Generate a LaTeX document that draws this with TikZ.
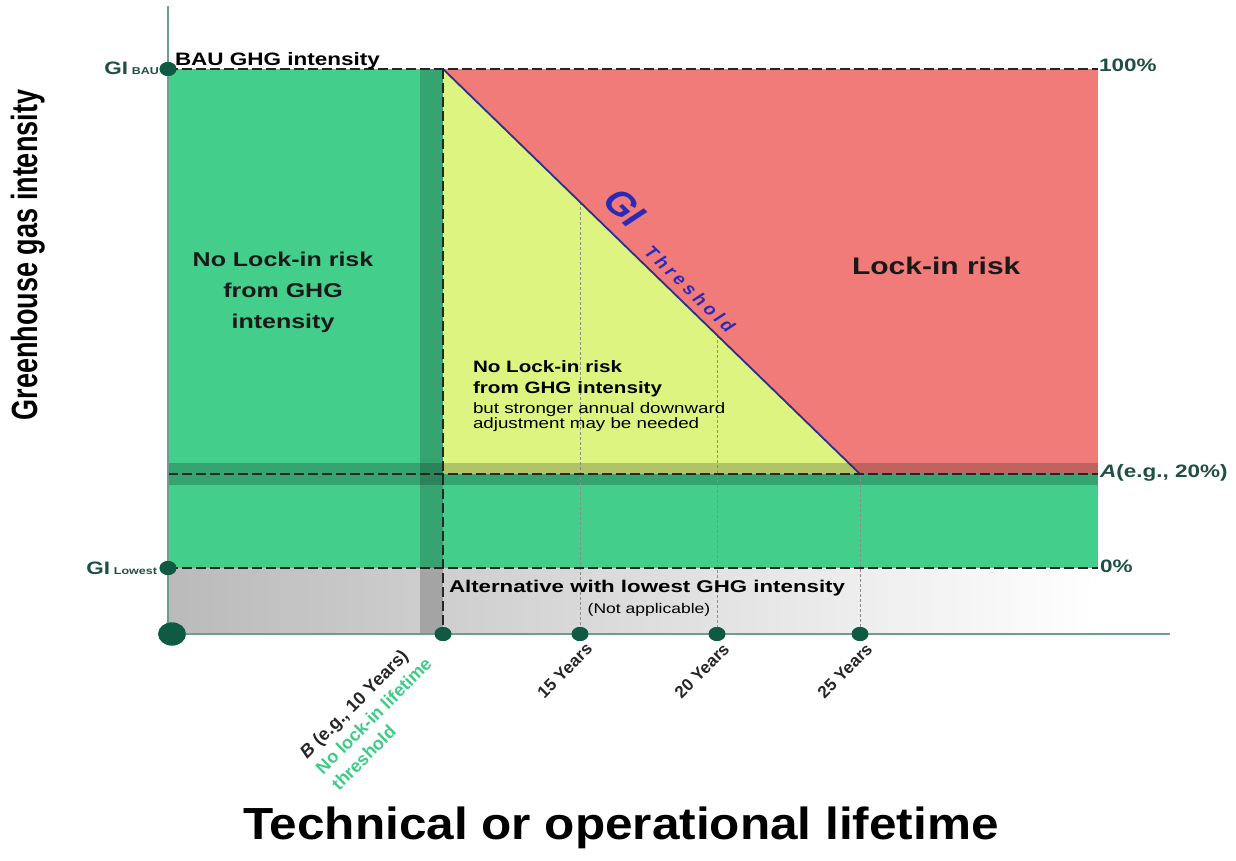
\documentclass[tikz,border=0pt]{standalone}
\usepackage{fontspec}
\setmainfont{Liberation Sans}
\definecolor{grn}{HTML}{44CE8C}
\definecolor{redc}{HTML}{F07B79}
\definecolor{yel}{HTML}{DDF580}
\definecolor{dotc}{HTML}{0E5A42}
\definecolor{lbl}{HTML}{1F4F45}
\definecolor{thr}{HTML}{2E2E8A}
\definecolor{thrtxt}{HTML}{2A2AB8}
\definecolor{axc}{HTML}{6F9C90}
\definecolor{lgrn}{HTML}{3FCB88}
\newcommand\myfs[1]{\fontsize{#1}{#1}\selectfont}
\begin{document}
\begin{tikzpicture}[x=1pt,y=-1pt,
  txt/.style={inner sep=0pt, outer sep=0pt, xscale=1.25},
  rtxt/.style={inner sep=0pt, outer sep=0pt},
  thickdash/.style={draw=black!85, line width=2.6pt, dash pattern=on 10pt off 4pt},
  thindash/.style={draw=black!45, line width=0.7pt, dash pattern=on 3pt off 2pt},
  dotnode/.style={circle, fill=dotc, inner sep=0pt, minimum size=14pt, xscale=1.2},
  band/.style={fill=black, fill opacity=0.2},
]
\useasboundingbox (0,0) rectangle (1236,861);
\fill[white] (0,0) rectangle (1236,861);
% key points
\coordinate (TL) at (168,69);
\coordinate (TR) at (1098,69);
\coordinate (AL) at (168,474);
\coordinate (AR) at (1098,474);
\coordinate (ZL) at (168,568);
\coordinate (ZR) at (1098,568);
\coordinate (Btop) at (443,69);
\coordinate (Athr) at (860,474);
\coordinate (t15) at (580,202);
\coordinate (t20) at (717,335);
\coordinate (axtop) at (168,6);
\coordinate (axend) at (1170,634);
\coordinate (O) at (168,634);
% regions
\shade[left color=black!27, right color=white] (168,568) rectangle (1098,634);
\fill[grn] (168,69) rectangle (1098,568);
\fill[redc] (443,69) rectangle (1098,474);
\fill[yel] (443,69) -- (860,474) -- (443,474) -- cycle;
\fill[band] (168,463) rectangle (1098,485);
\fill[band] (420,69) rectangle (443,634);
% dots
\node[dotnode, minimum size=23pt] (orig) at (172,634) {};
\node[dotnode] (dbau) at (168,69) {};
\node[dotnode] (dlow) at (168,568) {};
\node[dotnode] (d10) at (443,634) {};
\node[dotnode] (d15) at (580,634) {};
\node[dotnode] (d20) at (717,634) {};
\node[dotnode] (d25) at (860,634) {};
% thin guide lines
\draw[thindash] (t15) -- (d15.center);
\draw[thindash] (t20) -- (d20.center);
\draw[thindash] (Athr) -- (d25.center);
% threshold line
\draw[thr, line width=1.8pt] (Btop) -- (Athr);
% thick dashed lines
\draw[thickdash] (TL) -- (TR);
\draw[thickdash] (AL) -- (AR);
\draw[thickdash] (ZL) -- (ZR);
\draw[thickdash] (Btop) -- (d10.center);
% axes
\draw[axc, line width=1.5pt] (axtop) -- (O) -- (axend);
% redraw dots on top
\node[dotnode, minimum size=23pt] at (172,634) {};
\node[dotnode] at (168,69) {};
\node[dotnode] at (168,568) {};
\node[dotnode] at (443,634) {};
\node[dotnode] at (580,634) {};
\node[dotnode] at (717,634) {};
\node[dotnode] at (860,634) {};
% axis titles
\node[rtxt, xscale=1.35, rotate=90, font=\bfseries\myfs{27}] (ylab) at (28,255) {Greenhouse gas intensity};
\node[rtxt, xscale=1.1, font=\bfseries\myfs{45}] (xlab) at (621,828) {Technical or operational lifetime};
% left labels
\node[txt, anchor=base east, text=lbl, font=\bfseries] (gibau) at (159,75) {\myfs{18}GI\,\myfs{10}BAU};
\node[txt, anchor=base east, text=lbl, font=\bfseries] (gilow) at (157,574) {\myfs{18}GI\,\myfs{10}Lowest};
\node[txt, anchor=base west, font=\bfseries\myfs{18}] (baulab) at (175,66) {BAU GHG intensity};
% right labels
\node[txt, anchor=base west, text=lbl, font=\bfseries\myfs{18}] (p100) at (1099,72) {100\%};
\node[txt, anchor=base west, text=lbl, font=\bfseries\myfs{18}] (pA) at (1100,477) {\textit{A}(e.g., 20\%)};
\node[txt, anchor=base west, text=lbl, font=\bfseries\myfs{18}] (p0) at (1100,572) {0\%};
% region texts
\node[txt, align=center, font=\bfseries\fontsize{20}{31}\selectfont, text=black!90] (leftt) at (283,292) {No Lock-in risk\\from GHG\\intensity};
\node[txt, anchor=base west, font=\bfseries\myfs{24}, text=black!90] (lockin) at (852,274) {Lock-in risk};
\node[txt, anchor=base west, font=\bfseries\myfs{16.5}] (y1) at (473,372) {No Lock-in risk};
\node[txt, anchor=base west, font=\bfseries\myfs{16.5}] (y2) at (473,393) {from GHG intensity};
\node[txt, anchor=base west, font=\myfs{15}] (y3) at (473,413) {but stronger annual downward};
\node[txt, anchor=base west, font=\myfs{15}] (y4) at (473,428) {adjustment may be needed};
\node[rtxt, xscale=1.31, anchor=base west, font=\bfseries\myfs{17}] (alt) at (449,592) {Alternative with lowest GHG intensity};
\node[txt, anchor=base, font=\myfs{14}] (na) at (649,613) {(Not applicable)};
% threshold labels
\node[txt, rotate=-50.5, text=thrtxt, font=\bfseries\myfs{33}] (gi) at (625,208) {GI};
\node[txt, rotate=-50.5, text=thrtxt, font=\bfseries\myfs{16}] (thrlab) at (690,289) {T\kern3.5pt h\kern3.5pt r\kern3.5pt e\kern3.5pt s\kern3.5pt h\kern3.5pt o\kern3.5pt l\kern3.5pt d};
% year labels
\node[rtxt, rotate=45, anchor=north east, font=\bfseries\myfs{17}, text=black!85] (l15) at (585,642) {15 Years};
\node[rtxt, rotate=45, anchor=north east, font=\bfseries\myfs{17}, text=black!85] (l20) at (722,642) {20 Years};
\node[rtxt, rotate=45, anchor=north east, font=\bfseries\myfs{17}, text=black!85] (l25) at (865,642) {25 Years};
\node[rtxt, rotate=45, anchor=north west, align=left, font=\bfseries\fontsize{18}{22.5}\selectfont, text=black!85] (lbl10) at (298,750) {\textit{B} (e.g., 10 Years)\\\textcolor{lgrn}{No lock-in lifetime}\\\textcolor{lgrn}{threshold}};
\end{tikzpicture}
\end{document}
